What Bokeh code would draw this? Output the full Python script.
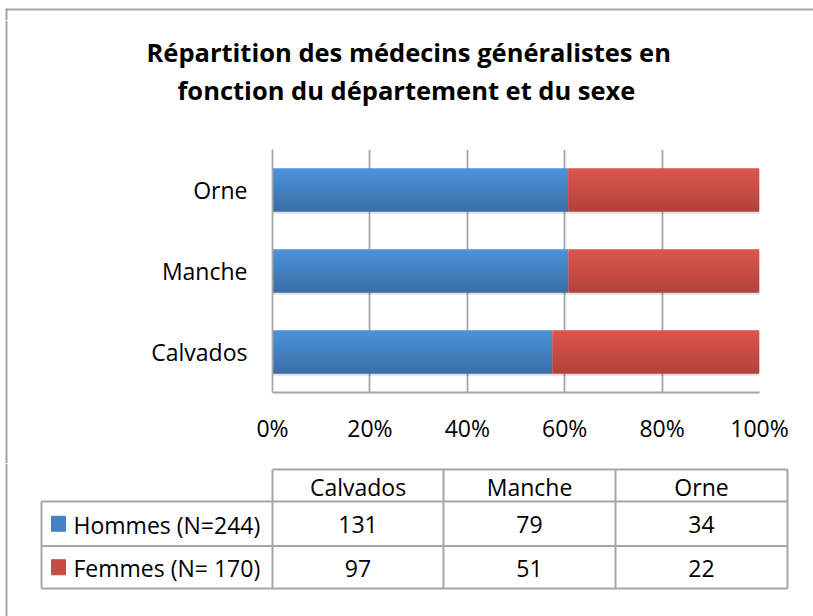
from bokeh.plotting import figure
from bokeh.models import (ColumnDataSource, Range1d, FactorRange, NumeralTickFormatter,
                          FixedTicker, Title)
from bokeh.layouts import column, row
from bokeh.transform import dodge
from bokeh.embed import file_html
from bokeh.resources import INLINE
from bokeh.core.properties import value

# ---- data ----
departements = ["Calvados", "Manche", "Orne"]
hommes = [131, 79, 34]
femmes = [97, 51, 22]
series_labels = ["Hommes (N=244)", "Femmes (N= 170)"]
x_ticks = [0, 0.2, 0.4, 0.6, 0.8, 1.0]
title_lines = ["Répartition des médecins généralistes en",
               "fonction du département et du sexe"]

# ---- styles ----
BLUE_TOP, BLUE_BOT = "#4b91d8", "#3b6fa8"
RED_TOP, RED_BOT = "#da554c", "#b3433c"
BLUE, RED = "#4381c4", "#c94c44"
GRID = "#a6a6a6"
FONT = "Open Sans"
W = 813
H_TOP, H_CHART, H_TABLE = 20, 443, 153
LEFT_STRIP = 8
BAR_H = 0.525
N_STRIPS = 14


def mix(c1, c2, t):
    a = [int(c1[i:i + 2], 16) for i in (1, 3, 5)]
    b = [int(c2[i:i + 2], 16) for i in (1, 3, 5)]
    return "#%02x%02x%02x" % tuple(round(x + (y - x) * t) for x, y in zip(a, b))


def blank(width, height):
    f = figure(width=width, height=height, title=None,
               x_range=Range1d(0, width), y_range=Range1d(height, 0),
               x_axis_location=None, y_axis_location=None,
               output_backend="svg", toolbar_location=None, min_border=0)
    f.frame_align = False
    f.grid.visible = False
    f.outline_line_color = None
    f.background_fill_color = "white"
    f.border_fill_color = "white"
    return f


totals = [h + f for h, f in zip(hommes, femmes)]
h_share = [h / t for h, t in zip(hommes, totals)]
f_share = [f / t for f, t in zip(femmes, totals)]
src = ColumnDataSource(dict(
    dept=departements,
    zero=[0] * len(departements),
    h=h_share,
    hf=[a + b for a, b in zip(h_share, f_share)],
))

# ---- outer frame strips (chart-area border, left and top) ----
top = blank(W, H_TOP)
top.quad(left=[5], right=[W], top=[8], bottom=[10], fill_color=GRID, line_color=None)
top.quad(left=[5], right=[7], top=[8], bottom=[H_TOP], fill_color=GRID, line_color=None)
side = blank(LEFT_STRIP, H_CHART)
side.quad(left=[5], right=[7], top=[0], bottom=[H_CHART], fill_color=GRID, line_color=None)

# ---- chart ----
p = figure(width=W - LEFT_STRIP, height=H_CHART, title=None,
           x_range=Range1d(0, 1), y_range=FactorRange(*departements),
           output_backend="svg", toolbar_location=None,
           min_border_left=272 - LEFT_STRIP, min_border_right=54,
           min_border_top=149 - H_TOP, min_border_bottom=71)
p.frame_align = False
p.outline_line_color = None
p.background_fill_color = "white"
p.border_fill_color = "white"

# titles (added from the frame outward)
p.add_layout(Title(text=" ", text_font_size="1px", standoff=39), "above")
p.add_layout(Title(text=title_lines[1], align="left", offset=-95, standoff=2,
                   text_font=FONT, text_font_size="25.5px", text_font_style="bold",
                   text_color="black"), "above")
p.add_layout(Title(text=title_lines[0], align="left", offset=-126, standoff=2,
                   text_font=FONT, text_font_size="25.5px", text_font_style="bold",
                   text_color="black"), "above")

# soft shadow under the bars
p.hbar(y=dodge("dept", -0.03, range=p.y_range), left="zero", right="hf",
       height=BAR_H, fill_color="black", fill_alpha=0.12, line_color=None, source=src)

# stacked bars with a vertical gradient
step = BAR_H / N_STRIPS
for k in range(N_STRIPS):
    off = -BAR_H / 2 + (k + 0.5) * step
    t_mix = k / (N_STRIPS - 1)
    cb = mix(BLUE_BOT, BLUE_TOP, t_mix)
    cr = mix(RED_BOT, RED_TOP, t_mix)
    p.hbar(y=dodge("dept", off, range=p.y_range), left="zero", right="h",
           height=step * 1.25, fill_color=cb, line_color=None, source=src)
    p.hbar(y=dodge("dept", off, range=p.y_range), left="h", right="hf",
           height=step * 1.25, fill_color=cr, line_color=None, source=src)

p.xaxis.ticker = FixedTicker(ticks=x_ticks)
p.xaxis.formatter = NumeralTickFormatter(format="0%")
p.xgrid.ticker = FixedTicker(ticks=x_ticks)
p.xgrid.grid_line_color = GRID
p.xgrid.grid_line_width = 1.8
p.ygrid.visible = False

for ax in (p.xaxis, p.yaxis):
    ax.axis_line_color = GRID
    ax.axis_line_width = 1.8
    ax.major_tick_in = 0
    ax.major_tick_out = 0
    ax.minor_tick_in = 0
    ax.minor_tick_out = 0
    ax.major_label_text_font = FONT
    ax.major_label_text_font_size = "23px"
    ax.major_label_text_color = "black"
p.xaxis.major_label_standoff = 19
p.yaxis.major_label_standoff = 25

# ---- data table ----
t = blank(W, H_TABLE)
t.quad(left=[5], right=[7], top=[0], bottom=[H_TABLE], fill_color=GRID, line_color=None)

col_edges = [272, 443, 615, 787]
left_edge = 41
header_top = 6
row_edges = [38, 82.5, 125]
col_centers = [(a + b) / 2 for a, b in zip(col_edges[:-1], col_edges[1:])]
row_centers = [(a + b) / 2 for a, b in zip(row_edges[:-1], row_edges[1:])]

x0 = [col_edges[0]] + [left_edge] * 3
x1 = [col_edges[-1]] * 4
yh = [header_top] + row_edges
t.segment(x0=x0, y0=yh, x1=x1, y1=yh, line_color=GRID, line_width=2)
xv = [left_edge] + col_edges
t.segment(x0=xv, y0=[row_edges[0]] + [header_top] * 4, x1=xv,
          y1=[row_edges[-1]] * 5, line_color=GRID, line_width=2)

t.text(x=col_centers, y=[(header_top + row_edges[0]) / 2 + 1] * 3, text=departements,
       text_align="center", text_baseline="middle",
       text_font=value(FONT), text_font_size=value("23px"), text_color="black")
for vals, yc in zip((hommes, femmes), row_centers):
    t.text(x=col_centers, y=[yc + 1] * 3, text=[str(v) for v in vals],
           text_align="center", text_baseline="middle",
           text_font=value(FONT), text_font_size=value("23px"), text_color="black")

t.rect(x=[58, 58], y=row_centers, width=14, height=15, color=[BLUE, RED])
t.text(x=[73, 73], y=[yc + 1 for yc in row_centers], text=series_labels,
       text_align="left", text_baseline="middle",
       text_font=value(FONT), text_font_size=value("23px"), text_color="black")

layout = column(top, row(side, p), t)
open("out.html", "w").write(file_html(layout, INLINE))
